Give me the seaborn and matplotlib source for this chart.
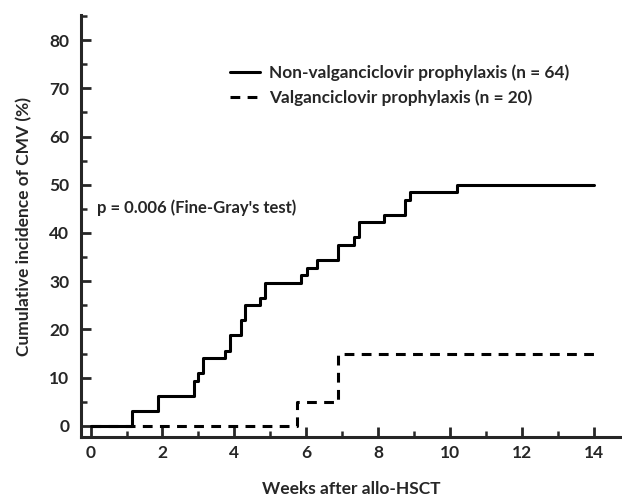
import matplotlib
matplotlib.use("Agg")
import matplotlib.pyplot as plt
import seaborn as sns
import pandas as pd
from matplotlib.ticker import MultipleLocator

# Data (step functions, steps-post)
non_weeks = [0, 1.14, 1.87, 2.88, 3.0, 3.14, 3.74, 3.89, 4.17, 4.29, 4.72, 4.84,
             5.86, 6.03, 6.31, 6.87, 7.33, 7.47, 8.15, 8.75, 8.87, 10.2, 14]
non_cum = [0, 3.1, 6.3, 9.4, 10.9, 14.1, 15.6, 18.8, 21.9, 25.0, 26.6, 29.7,
           31.3, 32.8, 34.4, 37.5, 39.1, 42.2, 43.8, 46.9, 48.4, 50.0, 50.0]
val_weeks = [0, 5.73, 6.87, 14]
val_cum = [0, 5.0, 15.0, 15.0]

label_non = "Non-valganciclovir prophylaxis (n = 64)"
label_val = "Valganciclovir prophylaxis (n = 20)"
xticks = [0, 2, 4, 6, 8, 10, 12, 14]
yticks = [0, 10, 20, 30, 40, 50, 60, 70, 80]

sns.set_style("ticks")
plt.rcParams['font.family'] = ['Lato', 'DejaVu Sans']
plt.rcParams['font.weight'] = 'bold'

fig = plt.figure(figsize=(6.22, 4.99), dpi=100)
ax = fig.add_axes([80.5 / 622, (499 - 437) / 499, (621 - 80.5) / 622, (437 - 15) / 499])

df_non = pd.DataFrame({"week": non_weeks, "cum": non_cum})
df_val = pd.DataFrame({"week": val_weeks, "cum": val_cum})

sns.lineplot(data=df_non, x="week", y="cum", ax=ax, color="black", lw=2.2,
             drawstyle="steps-post", estimator=None, sort=False, label=label_non)
sns.lineplot(data=df_val, x="week", y="cum", ax=ax, color="black", lw=2.2,
             drawstyle="steps-post", estimator=None, sort=False, label=label_val,
             linestyle=(0, (3.2, 2.4)))

ax.set_xlim(-0.28, 14.75)
ax.set_ylim(-2.3, 85.2)
ax.set_xticks(xticks)
ax.set_yticks(yticks)
ax.xaxis.set_minor_locator(MultipleLocator(1))
ax.yaxis.set_minor_locator(MultipleLocator(5))
ax.tick_params(which="major", direction="in", length=7, width=2, labelsize=12.5,
               pad=6)
ax.tick_params(which="major", axis="y", pad=8)
ax.tick_params(which="minor", direction="in", length=4, width=1.8)
for lab in ax.get_xticklabels() + ax.get_yticklabels():
    lab.set_fontweight("bold")

for s in ["top", "right"]:
    ax.spines[s].set_visible(False)
for s in ["left", "bottom"]:
    ax.spines[s].set_linewidth(2.2)

ax.set_xlabel("Weeks after allo-HSCT", fontsize=12.5, fontweight="bold", labelpad=14)
ax.set_ylabel("Cumulative incidence of CMV (%)", fontsize=12.5, fontweight="bold",
              labelpad=12)

ax.text(0.18, 45.3, "p = 0.006 (Fine-Gray's test)", fontsize=12, fontweight="bold",
        va="center", ha="left")

leg = ax.legend(loc="upper left", bbox_to_anchor=(0.264, 0.899), frameon=False,
                handlelength=1.75, handletextpad=0.52, labelspacing=0.5,
                borderaxespad=0.0,
                prop={"weight": "bold", "size": 12.4})

fig.savefig("out.png", dpi=100)
